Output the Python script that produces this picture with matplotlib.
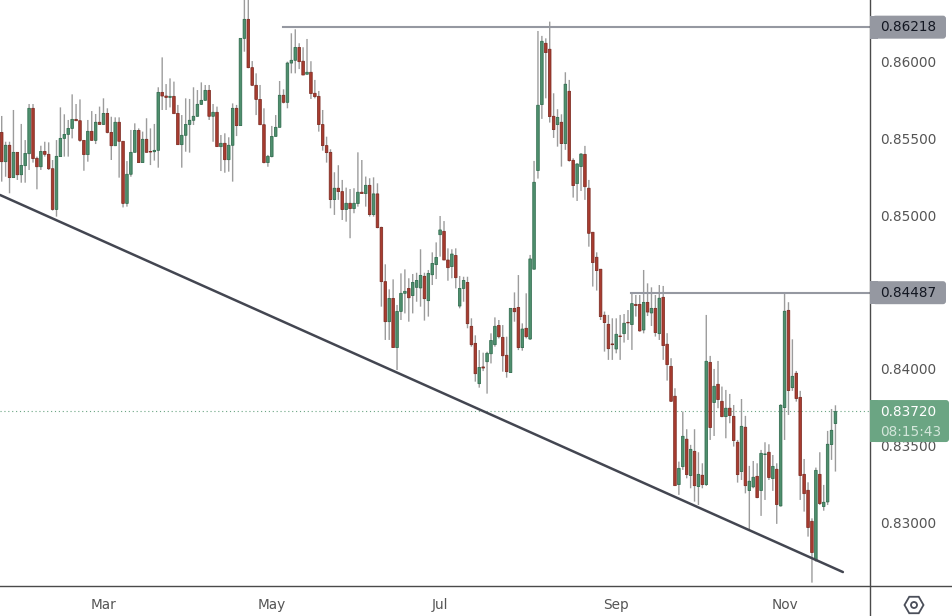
import numpy as np
import matplotlib.pyplot as plt
from matplotlib.lines import Line2D
from matplotlib.patches import FancyBboxPatch, Rectangle, RegularPolygon, Circle

# Daily candles, in 1/100000 of a point
opens = [85541, 85350, 85457, 85246, 85411, 85265, 85324, 85402, 85698, 85372,
         85317, 85417, 85398, 85304, 85039, 85383, 85502, 85528, 85567, 85626,
         85617, 85489, 85396, 85548, 85489, 85607, 85593, 85665, 85541, 85454,
         85607, 85483, 85078, 85268, 85411, 85554, 85344, 85496, 85417, 85415,
         85424, 85802, 85778, 85769, 85776, 85665, 85461, 85522, 85593, 85620,
         85646, 85724, 85750, 85815, 85646, 85672, 85448, 85470, 85363, 85457,
         85698, 85585, 86154, 86278, 85963, 85848, 85756, 85591, 85344, 85383,
         85515, 85574, 85783, 85737, 85993, 86011, 86095, 86005, 85920, 85933,
         85796, 85776, 85592, 85455, 85411, 85103, 85177, 85155, 85038, 85079,
         85044, 85077, 85151, 85142, 85196, 85005, 85140, 84922, 84568, 84307,
         84459, 84138, 84374, 84492, 84524, 84477, 84531, 84527, 84603, 84444,
         84613, 84679, 84874, 84896, 84709, 84666, 84739, 84409, 84524, 84563,
         84277, 84166, 83903, 84012, 84046, 84098, 84157, 84283, 84205, 84088,
         83975, 84394, 84400, 84138, 84264, 84194, 84649, 85292, 85722, 86122,
         86083, 85646, 85592, 85607, 85468, 85809, 85359, 85207, 85318, 85398,
         85177, 84890, 84727, 84649, 84349, 84290, 84162, 84129, 84214, 84229,
         84303, 84288, 84420, 84420, 84253, 84433, 84364, 84394, 84229, 84466,
         84160, 84016, 83821, 83245, 83362, 83541, 83304, 83462, 83232, 83306,
         83245, 84042, 83780, 83899, 83788, 83688, 83743, 83690, 83521, 83330,
         83619, 83206, 83230, 83299, 83206, 83441, 83456, 83284, 83345, 83106,
         83747, 84381, 83877, 83971, 83814, 83312, 83208, 83006, 82754, 83312,
         83102, 83132, 83506, 83643]
closes = [85350, 85457, 85246, 85411, 85265, 85326, 85404, 85698, 85370, 85317,
          85417, 85398, 85304, 85039, 85385, 85502, 85528, 85567, 85626, 85617,
          85489, 85396, 85548, 85489, 85607, 85593, 85665, 85541, 85454, 85607,
          85483, 85078, 85268, 85411, 85554, 85344, 85496, 85411, 85413, 85424,
          85802, 85778, 85769, 85776, 85663, 85461, 85522, 85593, 85620, 85646,
          85724, 85750, 85815, 85646, 85672, 85448, 85470, 85363, 85457, 85698,
          85585, 86154, 86278, 85963, 85848, 85756, 85591, 85344, 85385, 85515,
          85574, 85783, 85737, 85993, 86011, 86095, 86002, 85915, 85933, 85794,
          85774, 85592, 85455, 85409, 85103, 85177, 85155, 85038, 85079, 85044,
          85079, 85151, 85142, 85196, 85005, 85140, 84920, 84568, 84307, 84459,
          84138, 84374, 84492, 84505, 84463, 84563, 84576, 84609, 84457, 84622,
          84687, 84726, 84905, 84709, 84659, 84748, 84594, 84524, 84576, 84294,
          84157, 83968, 84009, 84005, 84101, 84185, 84277, 84209, 84085, 83981,
          84394, 84372, 84138, 84259, 84209, 84716, 85216, 85718, 86135, 86061,
          85644, 85559, 85639, 85468, 85855, 85357, 85194, 85335, 85400, 85187,
          84883, 84692, 84640, 84340, 84301, 84131, 84157, 84225, 84210, 84297,
          84299, 84425, 84412, 84247, 84433, 84370, 84394, 84236, 84460, 84151,
          84027, 83788, 83238, 83351, 83560, 83310, 83475, 83238, 83312, 83245,
          84049, 83617, 83886, 83799, 83688, 83743, 83695, 83532, 83310, 83625,
          83238, 83267, 83293, 83160, 83449, 83445, 83291, 83364, 83115, 83762,
          84375, 83858, 83951, 83806, 83304, 83186, 82965, 82802, 83338, 83121,
          83130, 83508, 83599, 83721]
highs = [85648, 85480, 85480, 85687, 85411, 85596, 85491, 85726, 85726, 85383,
         85454, 85480, 85476, 85361, 85491, 85704, 85659, 85622, 85789, 85726,
         85756, 85491, 85622, 85680, 85661, 85709, 85763, 85698, 85643, 85639,
         85639, 85483, 85354, 85557, 85600, 85567, 85546, 85633, 85567, 85596,
         85835, 86030, 85856, 85893, 85872, 85720, 85654, 85763, 85759, 85835,
         85817, 85867, 85850, 85850, 85726, 85709, 85524, 85535, 85509, 85730,
         85720, 86154, 86469, 86469, 86006, 85926, 85850, 85698, 85394, 85583,
         85654, 85876, 85822, 86002, 86187, 86213, 86122, 86096, 86150, 86005,
         85883, 85811, 85687, 85513, 85431, 85281, 85327, 85231, 85181, 85172,
         85177, 85411, 85361, 85253, 85242, 85248, 85209, 84926, 84681, 84518,
         84583, 84416, 84622, 84648, 84590, 84618, 84626, 84779, 84626, 84644,
         84759, 84824, 84996, 84963, 84785, 84779, 84785, 84605, 84600, 84600,
         84329, 84218, 84122, 84105, 84111, 84231, 84335, 84318, 84285, 84209,
         84394, 84498, 84611, 84296, 84492, 84742, 85355, 86202, 86170, 86154,
         86263, 85796, 85692, 85659, 85933, 85883, 85372, 85340, 85405, 85453,
         85231, 84890, 84759, 84649, 84373, 84351, 84329, 84329, 84351, 84357,
         84383, 84492, 84481, 84481, 84644, 84557, 84531, 84481, 84546, 84540,
         84232, 84069, 83873, 83395, 83721, 83606, 83504, 83606, 83456, 83384,
         84351, 84084, 83999, 84051, 83884, 83862, 83836, 83764, 83536, 83803,
         83693, 83367, 83399, 83384, 83471, 83521, 83508, 83438, 83384, 83769,
         84488, 84434, 84192, 83986, 83856, 83412, 83260, 83025, 83356, 83456,
         83243, 83595, 83738, 83762]
lows = [85220, 85252, 85144, 85246, 85231, 85213, 85213, 85296, 85344, 85170,
        85296, 85383, 85296, 85031, 84992, 85383, 85383, 85383, 85502, 85617,
        85480, 85291, 85350, 85489, 85465, 85593, 85589, 85535, 85361, 85454,
        85246, 85052, 85057, 85252, 85411, 85344, 85344, 85411, 85328, 85357,
        85311, 85687, 85687, 85704, 85665, 85459, 85311, 85415, 85409, 85589,
        85643, 85720, 85748, 85622, 85480, 85448, 85289, 85278, 85285, 85220,
        85517, 85585, 86067, 85959, 85843, 85654, 85589, 85339, 85317, 85378,
        85515, 85574, 85730, 85698, 85926, 85926, 85954, 85915, 85920, 85759,
        85763, 85546, 85422, 85344, 85046, 85003, 85101, 84970, 84959, 84851,
        85014, 85057, 85144, 85057, 84992, 84992, 84916, 84405, 84188, 84188,
        84138, 83992, 84318, 84361, 84307, 84361, 84437, 84405, 84314, 84340,
        84546, 84585, 84731, 84709, 84574, 84590, 84524, 84394, 84437, 84264,
        84144, 83916, 83877, 83985, 83838, 84035, 84144, 84198, 83981, 83942,
        83975, 84307, 84122, 84118, 84198, 84188, 84649, 85240, 85629, 85763,
        85605, 85505, 85448, 85318, 85427, 85350, 85116, 85094, 85159, 85101,
        84796, 84536, 84510, 84318, 84112, 84058, 84058, 84101, 84058, 84171,
        84188, 84123, 84340, 84242, 84231, 84344, 84279, 84210, 84188, 84058,
        83923, 83786, 83238, 83178, 83341, 83286, 83221, 83134, 83112, 83221,
        83236, 83536, 83562, 83743, 83684, 83547, 83645, 83493, 83258, 83275,
        83188, 82954, 83221, 83156, 83041, 83145, 83275, 83204, 82989, 83102,
        83536, 83699, 83856, 83786, 83145, 83069, 82906, 82606, 82743, 83112,
        83075, 83112, 83406, 83330]

month_labels = ["Mar", "May", "Jul", "Sep", "Nov"]
month_bars = [26, 69, 112, 157, 200]
price_ticks = [0.86, 0.855, 0.85, 0.84, 0.835, 0.83]
resistance_levels = [0.86218, 0.84487]
resistance_starts = [71.9, 160.8]
trend_x = [-0.43, 214.9]
trend_y = [0.85133, 0.82675]
last_price = 0.8372
countdown = "08:15:43"

GREEN = "#4f8f6e"
GREEN_EDGE = "#2f6b4d"
RED = "#a83c30"
RED_EDGE = "#7c2a21"
WICK = "#9c9c9c"
LEVEL = "#9598a1"
TEXT = "#555555"
LEVEL_NUDGE = 0.00009  # the labelled levels sit about a pixel above the tick scale

o = np.array(opens) / 100000
c = np.array(closes) / 100000
h = np.array(highs) / 100000
l = np.array(lows) / 100000
x = np.arange(len(o))
up = c >= o

fig = plt.figure(figsize=(9.52, 6.16), dpi=100, facecolor="white")
ax = fig.add_axes([0, 30 / 616, 869.5 / 952, 586 / 616])
ax.set_xlim(-0.434, 221.7)
ax.set_ylim(0.82584, 0.86404)

# Candles
ax.axhline(last_price + LEVEL_NUDGE / 2, color="#6ba583", lw=0.8, ls=(0, (1, 2.5)), zorder=1)
wicks = ax.vlines(x, l, h, color=WICK, lw=1.0, zorder=2)
wicks.set_snap(False)
bars_up = ax.bar(x[up], (c - o)[up], bottom=o[up], width=0.66, color=GREEN,
                 edgecolor=GREEN_EDGE, linewidth=0.55, zorder=3)
bars_down = ax.bar(x[~up], (o - c)[~up], bottom=c[~up], width=0.66, color=RED,
                   edgecolor=RED_EDGE, linewidth=0.55, zorder=3)
for bar in list(bars_up) + list(bars_down):
    bar.set_snap(False)

# Drawn lines
for level, start in zip(resistance_levels, resistance_starts):
    ax.plot([start, 222], [level + LEVEL_NUDGE] * 2, color=LEVEL, lw=1.5, zorder=4)
ax.plot(trend_x, trend_y, color="#434651", lw=1.8, solid_capstyle="round", zorder=5)

ax.set_xticks(month_bars, month_labels)
ax.set_yticks(price_ticks, [f"{p:.5f}" for p in price_ticks])
ax.yaxis.tick_right()
ax.tick_params(axis="x", length=0, pad=8.5, labelsize=9.8, labelcolor=TEXT)
ax.tick_params(axis="y", length=0, pad=7.6, labelsize=9.8, labelcolor=TEXT)
for side in ax.spines:
    ax.spines[side].set_visible(False)

# Axis frame runs out to the figure edges
fig.add_artist(Line2D([869.5 / 952, 869.5 / 952], [0, 1], color="#4a4a4a", lw=1.0))
fig.add_artist(Line2D([0, 1], [30 / 616, 30 / 616], color="#4a4a4a", lw=1.0))


def price_label(price, color, width, up_px, down_px):
    y = ax.transData.transform((0, price))[1]
    left = 869.5
    fig.add_artist(FancyBboxPatch((left + 3, y - down_px), width - 3, up_px + down_px,
                                  boxstyle="round,pad=0,rounding_size=3", fc=color, ec="none",
                                  transform=None, zorder=6))
    fig.add_artist(Rectangle((left, y - down_px), 8, up_px + down_px, fc=color, ec="none",
                             transform=None, zorder=6))
    return y


for level in resistance_levels:
    y = price_label(level + LEVEL_NUDGE, LEVEL, 76.5, 11.5, 11.5)
    fig.text(880.5 / 952, y / 616, f"{level:.5f}", color="#131722", fontsize=9.8, va="center", zorder=7)

y = price_label(last_price + LEVEL_NUDGE / 2, "#6ba583", 79.5, 11, 31)
fig.text(880.5 / 952, (y - 1) / 616, f"{last_price:.5f}", color="white", fontsize=9.8, va="center", zorder=7)
fig.text(880.5 / 952, (y - 20.5) / 616, countdown, color="#d3e6da", fontsize=9.8, va="center", zorder=7)

# Settings icon
fig.add_artist(RegularPolygon((914, 11), 6, radius=9.5, orientation=np.pi / 6, fc="white",
                              ec="#4a4e59", lw=1.3, transform=None, zorder=6))
fig.add_artist(Circle((914, 11), 3, fc="white", ec="#4a4e59", lw=1.3, transform=None, zorder=7))

plt.savefig("out.png", dpi=100)
